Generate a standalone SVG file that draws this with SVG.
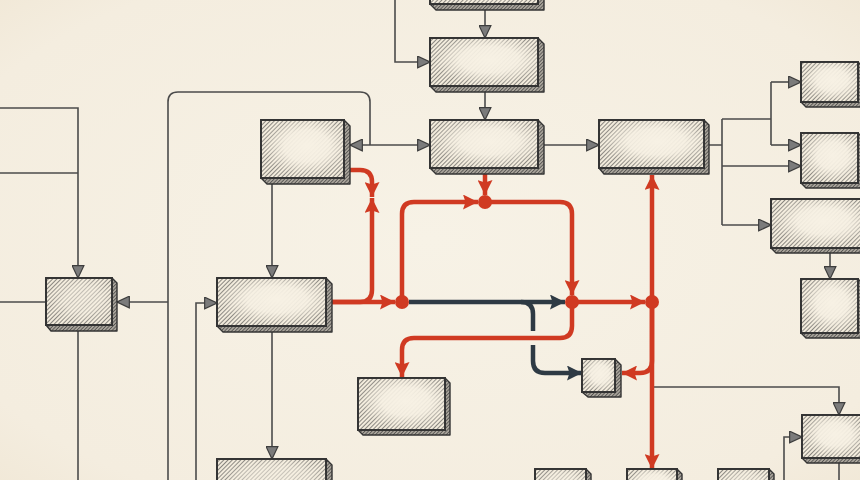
<svg xmlns="http://www.w3.org/2000/svg" width="860" height="480" viewBox="0 0 860 480">
<defs>
<radialGradient id="paper" cx="0.5" cy="0.5" r="0.8">
<stop offset="0" stop-color="#f7f2e6"/>
<stop offset="0.75" stop-color="#f4eddf"/>
<stop offset="1" stop-color="#efe5d2"/>
</radialGradient>
<pattern id="hatch" patternUnits="userSpaceOnUse" width="3" height="3" patternTransform="rotate(45)">
<rect width="3" height="3" fill="#f2ebdc"/>
<line x1="0" y1="0" x2="0" y2="3" stroke="#3f3f3f" stroke-width="1.2"/>
</pattern>
<pattern id="hatchD" patternUnits="userSpaceOnUse" width="2.5" height="2.5" patternTransform="rotate(45)">
<rect width="2.5" height="2.5" fill="#a9a49b"/>
<line x1="0" y1="0" x2="0" y2="2.5" stroke="#333" stroke-width="1.2"/>
</pattern>
<radialGradient id="glow" cx="0.55" cy="0.45" r="0.6">
<stop offset="0" stop-color="#f7f1e4" stop-opacity="1"/>
<stop offset="0.45" stop-color="#f7f1e4" stop-opacity="0.9"/>
<stop offset="0.85" stop-color="#f7f1e4" stop-opacity="0.1"/>
<stop offset="1" stop-color="#f7f1e4" stop-opacity="0"/>
</radialGradient>
<marker id="ga" viewBox="0 0 10 10" refX="10" refY="5" markerWidth="13" markerHeight="13" markerUnits="userSpaceOnUse" orient="auto-start-reverse">
<path d="M0.5,0.5 L10,5 L0.5,9.5 z" fill="#7b7b7b" stroke="#3d3d3d" stroke-width="0.9"/>
</marker>
<marker id="ra" viewBox="0 0 12 12" refX="12" refY="6" markerWidth="15" markerHeight="15" markerUnits="userSpaceOnUse" orient="auto">
<path d="M0,0 L12,6 L0,12 L2,6 z" fill="#d03a22"/>
</marker>
<marker id="da" viewBox="0 0 12 12" refX="12" refY="6" markerWidth="15" markerHeight="15" markerUnits="userSpaceOnUse" orient="auto">
<path d="M0,0 L12,6 L0,12 L2,6 z" fill="#2e3a44"/>
</marker>
<style>
.face{fill:url(#hatch);stroke:#333;stroke-width:1.8}
.glow{fill:url(#glow);stroke:none}
.edge{fill:none;stroke:#333;stroke-width:1.8}
.side{fill:url(#hatchD);stroke:#333;stroke-width:1.4;stroke-linejoin:round}
.g{fill:none;stroke:#4b4b4b;stroke-width:1.6}
.ga{marker-end:url(#ga)}
.r{fill:none;stroke:#d03a22;stroke-width:4.5;stroke-linecap:butt}
.ra{marker-end:url(#ra)}
.d{fill:none;stroke:#2e3a44;stroke-width:4.5}
.dot{fill:#d03a22}
.gap{stroke:#f6f0e3;stroke-width:14;fill:none}
</style>
</defs>
<rect width="860" height="480" fill="url(#paper)"/>

<g id="connectors">
<path class="g ga" d="M485,10 V38"/>
<path class="g ga" d="M395,0 V62 H430"/>
<path class="g ga" d="M485,92 V120"/>
<path class="g ga" d="M544,145 H599"/>
<path class="g" d="M709,145 H722 M722,119 V225 M722,119 H771 M771,82 V145"/>
<path class="g ga" d="M771,82 H801"/>
<path class="g ga" d="M771,145 H801"/>
<path class="g ga" d="M722,166 H801"/>
<path class="g ga" d="M722,225 H771"/>
<path class="g ga" d="M830,253 V279"/>
<path class="g ga" d="M350,145 H430" marker-start="url(#ga)"/>
<path class="g" d="M168,480 V102 Q168,92 178,92 H360 Q370,92 370,102 V145"/>
<path class="g ga" d="M0,108 H78 V278"/>
<path class="g" d="M0,173 H78"/>
<path class="g" d="M0,302 H46"/>
<path class="g" d="M78,331 V480"/>
<path class="g ga" d="M168,302 H117"/>
<path class="g ga" d="M272,184 V278"/>
<path class="g ga" d="M196,480 V303 H217"/>
<path class="g ga" d="M272,332 V459"/>
<path class="g ga" d="M652,387 H839 V415"/>
<path class="g ga" d="M784,480 V437 H802"/>
<path class="g" d="M839,463 V480"/>
<path class="d" d="M409,302 H565" marker-end="url(#da)"/>
<path class="d" d="M521,302 Q533,302 533,314 V361 Q533,373 545,373 H582" marker-end="url(#da)"/>
<path class="gap" d="M526,338 H540"/>
<path class="r ra" d="M350,170 H360 Q372,170 372,182 V197"/>
<path class="r ra" d="M332,302 H360 Q372,302 372,290 V198"/>
<path class="r ra" d="M332,302 H395"/>
<path class="r ra" d="M402,302 V214 Q402,202 414,202 H478"/>
<path class="r ra" d="M485,174 V195"/>
<path class="r ra" d="M485,202 H560 Q572,202 572,214 V295"/>
<path class="r ra" d="M572,302 H645"/>
<path class="r ra" d="M572,302 V326 Q572,338 560,338 H414 Q402,338 402,350 V377"/>
<path class="r ra" d="M652,302 V175"/>
<path class="r ra" d="M652,302 V469"/>
<path class="r ra" d="M652,302 V361 Q652,373 640,373 H622"/>
<circle class="dot" cx="402" cy="302" r="7"/>
<circle class="dot" cx="485" cy="202" r="7"/>
<circle class="dot" cx="572" cy="302" r="7"/>
<circle class="dot" cx="652" cy="302" r="7"/>
</g>

<g id="n-top"><path class="side" d="M538,-40 L544,-34 V10 H436 L430,4 H538 Z"/><rect class="face" x="430" y="-40" width="108" height="44"/><rect class="glow" x="430" y="-40" width="108" height="44"/><rect class="edge" x="430" y="-40" width="108" height="44"/></g>
<g id="n-b"><path class="side" d="M538,38 L544,44 V92 H436 L430,86 H538 Z"/><rect class="face" x="430" y="38" width="108" height="48"/><rect class="glow" x="430" y="38" width="108" height="48"/><rect class="edge" x="430" y="38" width="108" height="48"/></g>
<g id="n-c"><path class="side" d="M538,120 L544,126 V174 H436 L430,168 H538 Z"/><rect class="face" x="430" y="120" width="108" height="48"/><rect class="glow" x="430" y="120" width="108" height="48"/><rect class="edge" x="430" y="120" width="108" height="48"/></g>
<g id="n-d"><path class="side" d="M704,120 L709,125 V174 H604 L599,168 H704 Z"/><rect class="face" x="599" y="120" width="105" height="48"/><rect class="glow" x="599" y="120" width="105" height="48"/><rect class="edge" x="599" y="120" width="105" height="48"/></g>
<g id="n-e1"><path class="side" d="M858,62 L863,67 V107 H806 L801,102 H858 Z"/><rect class="face" x="801" y="62" width="57" height="40"/><rect class="glow" x="801" y="62" width="57" height="40"/><rect class="edge" x="801" y="62" width="57" height="40"/></g>
<g id="n-e2"><path class="side" d="M858,133 L863,138 V188 H806 L801,183 H858 Z"/><rect class="face" x="801" y="133" width="57" height="50"/><rect class="glow" x="801" y="133" width="57" height="50"/><rect class="edge" x="801" y="133" width="57" height="50"/></g>
<g id="n-f"><path class="side" d="M866,199 L871,204 V253 H776 L771,248 H866 Z"/><rect class="face" x="771" y="199" width="95" height="49"/><rect class="glow" x="771" y="199" width="95" height="49"/><rect class="edge" x="771" y="199" width="95" height="49"/></g>
<g id="n-g"><path class="side" d="M858,279 L863,284 V338 H806 L801,333 H858 Z"/><rect class="face" x="801" y="279" width="57" height="54"/><rect class="glow" x="801" y="279" width="57" height="54"/><rect class="edge" x="801" y="279" width="57" height="54"/></g>
<g id="n-h"><path class="side" d="M862,415 L867,420 V463 H807 L802,458 H862 Z"/><rect class="face" x="802" y="415" width="60" height="43"/><rect class="glow" x="802" y="415" width="60" height="43"/><rect class="edge" x="802" y="415" width="60" height="43"/></g>
<g id="n-a"><path class="side" d="M344,120 L350,126 V184 H267 L261,178 H344 Z"/><rect class="face" x="261" y="120" width="83" height="58"/><rect class="glow" x="261" y="120" width="83" height="58"/><rect class="edge" x="261" y="120" width="83" height="58"/></g>
<g id="n-l"><path class="side" d="M112,278 L117,283 V331 H51 L46,325 H112 Z"/><rect class="face" x="46" y="278" width="66" height="47"/><rect class="glow" x="46" y="278" width="66" height="47" opacity="0.55"/><rect class="edge" x="46" y="278" width="66" height="47"/></g>
<g id="n-m"><path class="side" d="M326,278 L332,284 V332 H223 L217,326 H326 Z"/><rect class="face" x="217" y="278" width="109" height="48"/><rect class="glow" x="217" y="278" width="109" height="48"/><rect class="edge" x="217" y="278" width="109" height="48"/></g>
<g id="n-n"><path class="side" d="M326,459 L332,465 V505 H223 L217,499 H326 Z"/><rect class="face" x="217" y="459" width="109" height="40"/><rect class="glow" x="217" y="459" width="109" height="40" opacity="0.6"/><rect class="edge" x="217" y="459" width="109" height="40"/></g>
<g id="n-p"><path class="side" d="M445,378 L450,383 V435 H363 L358,430 H445 Z"/><rect class="face" x="358" y="378" width="87" height="52"/><rect class="glow" x="358" y="378" width="87" height="52"/><rect class="edge" x="358" y="378" width="87" height="52"/></g>
<g id="n-q"><path class="side" d="M615,359 L621,365 V397 H588 L582,392 H615 Z"/><rect class="face" x="582" y="359" width="33" height="33"/><rect class="glow" x="582" y="359" width="33" height="33"/><rect class="edge" x="582" y="359" width="33" height="33"/></g>
<g id="n-r1"><path class="side" d="M586,469 L591,474 V504 H540 L535,499 H586 Z"/><rect class="face" x="535" y="469" width="51" height="30"/><rect class="glow" x="535" y="469" width="51" height="30" opacity="0.6"/><rect class="edge" x="535" y="469" width="51" height="30"/></g>
<g id="n-r2"><path class="side" d="M677,469 L682,474 V504 H632 L627,499 H677 Z"/><rect class="face" x="627" y="469" width="50" height="30"/><rect class="glow" x="627" y="469" width="50" height="30"/><rect class="edge" x="627" y="469" width="50" height="30"/></g>
<g id="n-r3"><path class="side" d="M769,469 L774,474 V504 H723 L718,499 H769 Z"/><rect class="face" x="718" y="469" width="51" height="30"/><rect class="glow" x="718" y="469" width="51" height="30" opacity="0.6"/><rect class="edge" x="718" y="469" width="51" height="30"/></g>
</svg>
